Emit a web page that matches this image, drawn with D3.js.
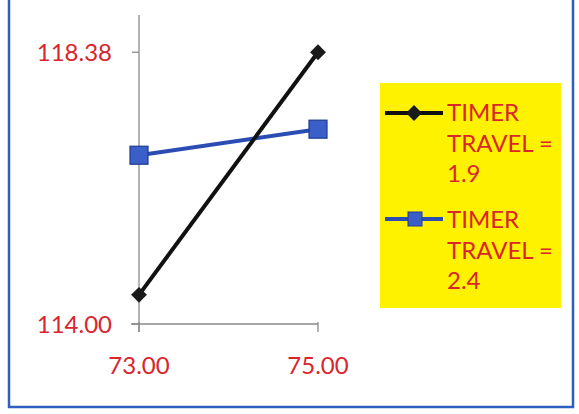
<!DOCTYPE html>
<html>
<head>
<meta charset="utf-8">
<script src="https://cdn.jsdelivr.net/npm/d3@7"></script>
<style>
  html, body { margin: 0; padding: 0; background: #ffffff; }
  svg { display: block; }
  text { font-family: Lato, "Open Sans", sans-serif; }
</style>
</head>
<body>
<svg id="chart" width="579" height="414"></svg>
<script>
// Timer setting on the x axis, one line per timer travel value
const xValues = [73.00, 75.00];
const xTickLabels = ["73.00", "75.00"];
const yTickValues = [114.00, 118.38];
const yTickLabels = ["114.00", "118.38"];
const seriesNames = [["TIMER", "TRAVEL =", "1.9"], ["TIMER", "TRAVEL =", "2.4"]];
const travel19 = [114.47, 118.38];
const travel24 = [116.72, 117.14];

const svg = d3.select("#chart");
const red = "#d8262c";

// outer frame
svg.append("path")
  .attr("d", "M9,-5 V407 H573 V-5")
  .attr("fill", "none")
  .attr("stroke", "#2c5fbf")
  .attr("stroke-width", 2.5);

const x = d3.scaleLinear().domain([73, 75]).range([139, 318]);
const y = d3.scaleLinear().domain([114, 118.98]).range([324, 15]);

// axes
const axisColor = "#8a8a8a";
svg.append("line").attr("x1", x(73)).attr("x2", x(73))
  .attr("y1", y(118.98)).attr("y2", y(114) + 8)
  .attr("stroke", axisColor).attr("stroke-width", 1.3);
svg.append("line").attr("x1", x(73) - 8).attr("x2", x(75))
  .attr("y1", y(114)).attr("y2", y(114))
  .attr("stroke", axisColor).attr("stroke-width", 1.3);

// y ticks
svg.selectAll(".ytick").data(yTickValues).join("line")
  .attr("x1", x(73) - 7).attr("x2", x(73))
  .attr("y1", d => y(d)).attr("y2", d => y(d))
  .attr("stroke", axisColor).attr("stroke-width", 1.3);
svg.selectAll(".ylab").data(yTickValues).join("text")
  .attr("x", x(73) - 27).attr("y", d => y(d) + 9)
  .attr("text-anchor", "end")
  .attr("font-size", 24).attr("fill", red)
  .text((d, i) => yTickLabels[i]);

// x ticks
svg.selectAll(".xtick").data(xValues).join("line")
  .attr("x1", d => x(d)).attr("x2", d => x(d))
  .attr("y1", y(114) - 2).attr("y2", y(114) + 8)
  .attr("stroke", axisColor).attr("stroke-width", 1.3);
svg.selectAll(".xlab").data(xValues).join("text")
  .attr("x", d => x(d)).attr("y", 374)
  .attr("text-anchor", "middle")
  .attr("font-size", 24).attr("fill", red)
  .text((d, i) => xTickLabels[i]);

const line = d3.line().x((d, i) => x(xValues[i])).y(d => y(d));

// series: travel 2.4 (blue squares)
svg.append("path").datum(travel24)
  .attr("d", line).attr("fill", "none")
  .attr("stroke", "#2b4db3").attr("stroke-width", 4);
svg.selectAll(".sq").data(travel24).join("rect")
  .attr("x", (d, i) => x(xValues[i]) - 9).attr("y", d => y(d) - 9)
  .attr("width", 18).attr("height", 18)
  .attr("fill", "#3a5fc8").attr("stroke", "#1f3a95").attr("stroke-width", 1.2);

// series: travel 1.9 (black diamonds)
svg.append("path").datum(travel19)
  .attr("d", line).attr("fill", "none")
  .attr("stroke", "#111111").attr("stroke-width", 4);
const diamond = d3.symbol().type(d3.symbolDiamond2).size(160);
svg.selectAll(".dm").data(travel19).join("path")
  .attr("d", diamond)
  .attr("transform", (d, i) => `translate(${x(xValues[i])},${y(d)}) rotate(0)`)
  .attr("fill", "#1a1a1a");

// legend
const lg = svg.append("g");
lg.append("rect").attr("x", 380).attr("y", 83).attr("width", 181).attr("height", 225)
  .attr("fill", "#fff200");

const entries = [
  { name: seriesNames[0], color: "#111111", ly: 113, ty: 121, marker: "diamond" },
  { name: seriesNames[1], color: "#2b4db3", ly: 219, ty: 228, marker: "square" }
];
entries.forEach(e => {
  lg.append("line").attr("x1", 385).attr("x2", 443)
    .attr("y1", e.ly).attr("y2", e.ly)
    .attr("stroke", e.color).attr("stroke-width", 4);
  if (e.marker === "diamond") {
    lg.append("path").attr("d", diamond)
      .attr("transform", `translate(414,${e.ly})`).attr("fill", "#1a1a1a");
  } else {
    lg.append("rect").attr("x", 408).attr("y", e.ly - 7).attr("width", 14).attr("height", 14)
      .attr("fill", "#3a5fc8").attr("stroke", "#1f3a95").attr("stroke-width", 1);
  }
  e.name.forEach((t, k) => {
    lg.append("text").attr("x", 447).attr("y", e.ty + k * 30.5)
      .attr("font-size", 24).attr("fill", red).text(t);
  });
});
</script>
</body>
</html>
